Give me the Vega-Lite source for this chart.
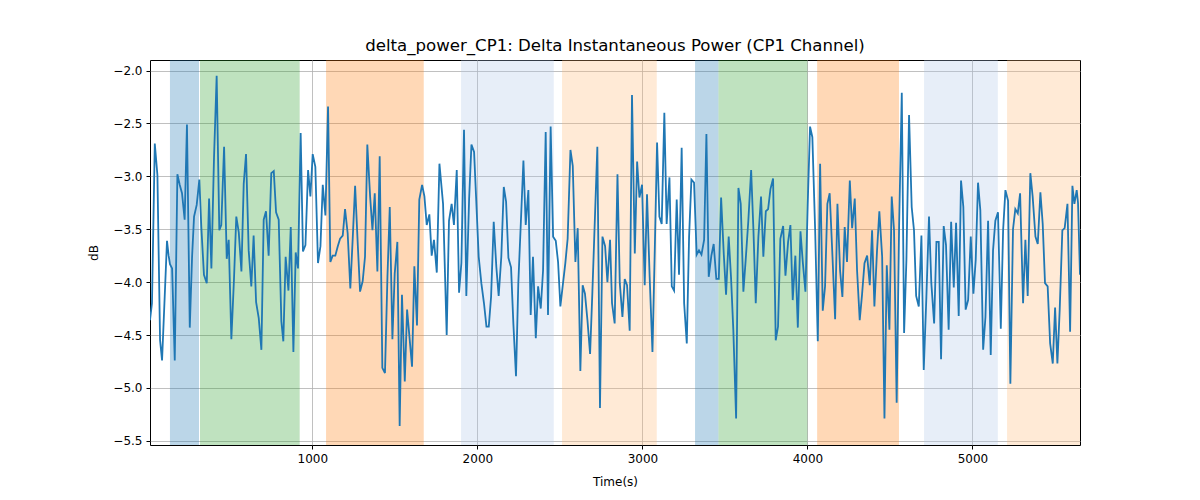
{
  "$schema": "https://vega.github.io/schema/vega-lite/v6.json",
  "width": 930,
  "height": 385,
  "autosize": "none",
  "padding": {"left": 150, "top": 60, "right": 120, "bottom": 55},
  "background": "white",
  "title": {"text": "delta_power_CP1: Delta Instantaneous Power (CP1 Channel)", "font": "DejaVu Sans", "fontSize": 16.6, "fontWeight": "normal", "color": "black", "offset": 5, "anchor": "middle"},
  "config": {
    "view": {"stroke": "black", "strokeWidth": 1},
    "axis": {"labelFont": "DejaVu Sans", "labelFontSize": 12, "labelColor": "black", "titleFont": "DejaVu Sans", "titleFontSize": 12, "titleFontWeight": "normal", "titleColor": "black", "tickColor": "black", "tickSize": 4, "labelPadding": 4, "domain": false, "gridColor": "#b0b0b0", "gridWidth": 0.8}
  },
  "datasets": {
    "spans": [
      {"start": 137, "end": 313, "kind": "a"},
      {"start": 319, "end": 923, "kind": "b"},
      {"start": 1083, "end": 1675, "kind": "c"},
      {"start": 1901, "end": 2463, "kind": "d"},
      {"start": 2513, "end": 3087, "kind": "e"},
      {"start": 3319, "end": 3461, "kind": "a"},
      {"start": 3461, "end": 4000, "kind": "b"},
      {"start": 4059, "end": 4555, "kind": "c"},
      {"start": 4707, "end": 5154, "kind": "d"},
      {"start": 5210, "end": 5652, "kind": "e"}
    ],
    "series": [
      {"t":16,"v":-4.36},{"t":28,"v":-4.20},{"t":45,"v":-2.69},{"t":61,"v":-2.99},{"t":77,"v":-4.55},{"t":89,"v":-4.74},{"t":105,"v":-4.14},{"t":119,"v":-3.61},{"t":129,"v":-3.75},{"t":137,"v":-3.83},{"t":150,"v":-3.87},{"t":166,"v":-4.74},{"t":182,"v":-2.98},{"t":196,"v":-3.08},{"t":210,"v":-3.16},{"t":226,"v":-3.41},{"t":240,"v":-2.51},{"t":257,"v":-4.43},{"t":271,"v":-3.76},{"t":283,"v":-3.38},{"t":299,"v":-3.27},{"t":315,"v":-3.03},{"t":327,"v":-3.48},{"t":343,"v":-3.93},{"t":360,"v":-4.01},{"t":374,"v":-3.21},{"t":388,"v":-3.87},{"t":404,"v":-2.82},{"t":420,"v":-2.05},{"t":436,"v":-3.51},{"t":448,"v":-3.46},{"t":465,"v":-2.72},{"t":481,"v":-3.78},{"t":493,"v":-3.60},{"t":509,"v":-4.54},{"t":525,"v":-3.97},{"t":539,"v":-3.38},{"t":554,"v":-3.53},{"t":570,"v":-3.90},{"t":584,"v":-3.07},{"t":598,"v":-2.79},{"t":614,"v":-3.70},{"t":630,"v":-4.04},{"t":644,"v":-3.56},{"t":659,"v":-4.19},{"t":675,"v":-4.34},{"t":691,"v":-4.64},{"t":705,"v":-3.41},{"t":719,"v":-3.33},{"t":735,"v":-3.75},{"t":751,"v":-2.97},{"t":766,"v":-2.95},{"t":780,"v":-3.34},{"t":796,"v":-3.41},{"t":812,"v":-4.37},{"t":824,"v":-4.56},{"t":838,"v":-3.76},{"t":855,"v":-4.08},{"t":869,"v":-3.48},{"t":885,"v":-4.66},{"t":899,"v":-3.72},{"t":913,"v":-3.87},{"t":929,"v":-2.59},{"t":943,"v":-3.71},{"t":958,"v":-3.65},{"t":974,"v":-2.94},
      {"t":988,"v":-3.19},{"t":1002,"v":-2.79},{"t":1018,"v":-2.91},{"t":1034,"v":-3.82},{"t":1049,"v":-3.66},{"t":1063,"v":-3.08},{"t":1079,"v":-3.37},{"t":1095,"v":-2.34},{"t":1109,"v":-3.81},{"t":1123,"v":-3.75},{"t":1139,"v":-3.75},{"t":1154,"v":-3.66},{"t":1168,"v":-3.59},{"t":1184,"v":-3.56},{"t":1198,"v":-3.31},{"t":1214,"v":-3.54},{"t":1230,"v":-4.06},{"t":1245,"v":-3.57},{"t":1259,"v":-3.09},{"t":1275,"v":-3.64},{"t":1289,"v":-4.09},{"t":1305,"v":-3.99},{"t":1319,"v":-3.76},{"t":1333,"v":-2.70},{"t":1350,"v":-3.19},{"t":1364,"v":-3.51},{"t":1378,"v":-3.16},{"t":1394,"v":-3.90},{"t":1408,"v":-2.81},{"t":1424,"v":-4.81},{"t":1440,"v":-4.86},{"t":1455,"v":-3.95},{"t":1469,"v":-3.29},{"t":1485,"v":-4.54},{"t":1499,"v":-3.92},{"t":1515,"v":-3.62},{"t":1529,"v":-5.36},{"t":1543,"v":-4.12},{"t":1560,"v":-4.94},{"t":1574,"v":-4.26},{"t":1588,"v":-4.51},{"t":1604,"v":-4.80},{"t":1618,"v":-3.85},{"t":1634,"v":-4.41},{"t":1648,"v":-3.22},{"t":1665,"v":-3.08},{"t":1679,"v":-3.19},{"t":1693,"v":-3.46},{"t":1709,"v":-3.36},{"t":1723,"v":-3.75},{"t":1737,"v":-3.60},{"t":1754,"v":-3.91},{"t":1770,"v":-2.88},{"t":1792,"v":-3.26},{"t":1814,"v":-4.50},{"t":1828,"v":-3.42},{"t":1844,"v":-3.26},{"t":1858,"v":-3.46},{"t":1875,"v":-2.94},{"t":1889,"v":-4.10},
      {"t":1903,"v":-3.82},{"t":1919,"v":-2.56},{"t":1933,"v":-4.13},{"t":1950,"v":-3.21},{"t":1964,"v":-2.70},{"t":1980,"v":-2.77},{"t":1992,"v":-3.19},{"t":2008,"v":-3.76},{"t":2024,"v":-4.01},{"t":2040,"v":-4.20},{"t":2055,"v":-4.42},{"t":2069,"v":-4.42},{"t":2083,"v":-4.14},{"t":2099,"v":-3.43},{"t":2115,"v":-3.86},{"t":2129,"v":-4.13},{"t":2145,"v":-3.76},{"t":2160,"v":-3.10},{"t":2174,"v":-3.24},{"t":2188,"v":-3.77},{"t":2204,"v":-3.86},{"t":2218,"v":-4.39},{"t":2234,"v":-4.89},{"t":2248,"v":-4.01},{"t":2263,"v":-3.45},{"t":2279,"v":-2.85},{"t":2293,"v":-3.46},{"t":2309,"v":-3.13},{"t":2323,"v":-4.31},{"t":2337,"v":-3.76},{"t":2354,"v":-4.53},{"t":2368,"v":-4.04},{"t":2384,"v":-4.25},{"t":2398,"v":-3.89},{"t":2414,"v":-2.58},{"t":2428,"v":-4.31},{"t":2444,"v":-2.53},{"t":2459,"v":-3.57},{"t":2475,"v":-3.61},{"t":2489,"v":-3.81},{"t":2503,"v":-4.23},{"t":2519,"v":-4.01},{"t":2533,"v":-3.82},{"t":2547,"v":-3.59},{"t":2564,"v":-2.75},{"t":2578,"v":-2.90},{"t":2594,"v":-3.81},{"t":2608,"v":-3.49},{"t":2624,"v":-4.84},{"t":2638,"v":-4.03},{"t":2652,"v":-4.11},{"t":2667,"v":-4.36},{"t":2683,"v":-4.68},{"t":2697,"v":-4.09},{"t":2711,"v":-3.45},{"t":2727,"v":-2.72},{"t":2743,"v":-5.19},{"t":2758,"v":-3.57},{"t":2774,"v":-3.66},{"t":2788,"v":-4.00},{"t":2804,"v":-3.60},{"t":2816,"v":-4.20},
      {"t":2832,"v":-4.39},{"t":2849,"v":-2.98},{"t":2863,"v":-4.01},{"t":2879,"v":-4.33},{"t":2893,"v":-3.97},{"t":2907,"v":-4.03},{"t":2923,"v":-4.46},{"t":2937,"v":-2.23},{"t":2954,"v":-3.73},{"t":2968,"v":-2.86},{"t":2982,"v":-3.20},{"t":2998,"v":-3.08},{"t":3014,"v":-4.03},{"t":3028,"v":-3.17},{"t":3044,"v":-3.95},{"t":3061,"v":-4.66},{"t":3075,"v":-3.70},{"t":3089,"v":-2.68},{"t":3103,"v":-3.38},{"t":3117,"v":-3.45},{"t":3133,"v":-2.40},{"t":3147,"v":-3.45},{"t":3164,"v":-3.01},{"t":3178,"v":-4.04},{"t":3192,"v":-4.08},{"t":3208,"v":-3.22},{"t":3222,"v":-3.93},{"t":3238,"v":-2.73},{"t":3253,"v":-4.20},{"t":3269,"v":-4.58},{"t":3283,"v":-3.57},{"t":3297,"v":-3.03},{"t":3313,"v":-3.06},{"t":3329,"v":-3.74},{"t":3343,"v":-3.70},{"t":3358,"v":-3.74},{"t":3374,"v":-3.60},{"t":3388,"v":-2.60},{"t":3402,"v":-3.95},{"t":3418,"v":-3.75},{"t":3432,"v":-3.64},{"t":3448,"v":-3.97},{"t":3463,"v":-3.97},{"t":3477,"v":-3.20},{"t":3493,"v":-3.73},{"t":3507,"v":-4.12},{"t":3523,"v":-3.57},{"t":3537,"v":-3.95},{"t":3551,"v":-4.45},{"t":3568,"v":-5.29},{"t":3582,"v":-3.11},{"t":3596,"v":-3.26},{"t":3612,"v":-4.09},{"t":3626,"v":-3.79},{"t":3642,"v":-3.42},{"t":3659,"v":-2.94},{"t":3673,"v":-3.51},{"t":3687,"v":-4.20},{"t":3703,"v":-3.57},{"t":3719,"v":-3.19},{"t":3733,"v":-3.76},
      {"t":3748,"v":-3.33},{"t":3762,"v":-3.31},{"t":3776,"v":-3.12},{"t":3792,"v":-3.02},{"t":3808,"v":-4.55},{"t":3822,"v":-4.42},{"t":3836,"v":-3.59},{"t":3853,"v":-3.47},{"t":3867,"v":-3.94},{"t":3883,"v":-3.62},{"t":3897,"v":-3.46},{"t":3911,"v":-4.17},{"t":3927,"v":-3.75},{"t":3942,"v":-4.43},{"t":3958,"v":-3.52},{"t":3972,"v":-3.81},{"t":3988,"v":-4.09},{"t":4002,"v":-3.26},{"t":4016,"v":-2.53},{"t":4030,"v":-2.63},{"t":4047,"v":-3.51},{"t":4063,"v":-4.56},{"t":4077,"v":-2.88},{"t":4093,"v":-4.27},{"t":4107,"v":-4.04},{"t":4121,"v":-3.26},{"t":4135,"v":-3.16},{"t":4152,"v":-3.76},{"t":4168,"v":-4.35},{"t":4182,"v":-3.26},{"t":4198,"v":-3.89},{"t":4212,"v":-4.14},{"t":4226,"v":-3.48},{"t":4240,"v":-3.81},{"t":4257,"v":-3.04},{"t":4271,"v":-3.49},{"t":4287,"v":-3.21},{"t":4301,"v":-3.89},{"t":4317,"v":-4.36},{"t":4331,"v":-4.12},{"t":4346,"v":-3.82},{"t":4362,"v":-3.75},{"t":4378,"v":-4.03},{"t":4392,"v":-3.51},{"t":4406,"v":-4.23},{"t":4422,"v":-3.70},{"t":4436,"v":-3.33},{"t":4453,"v":-3.76},{"t":4467,"v":-5.29},{"t":4481,"v":-3.84},{"t":4497,"v":-4.45},{"t":4511,"v":-3.19},{"t":4525,"v":-3.51},{"t":4541,"v":-5.14},{"t":4556,"v":-3.45},{"t":4572,"v":-2.21},{"t":4586,"v":-4.48},{"t":4600,"v":-3.79},{"t":4616,"v":-2.42},{"t":4632,"v":-3.29},{"t":4646,"v":-3.51},{"t":4659,"v":-4.13},
      {"t":4675,"v":-4.23},{"t":4691,"v":-3.56},{"t":4705,"v":-4.83},{"t":4721,"v":-4.14},{"t":4737,"v":-3.38},{"t":4751,"v":-4.01},{"t":4768,"v":-4.39},{"t":4782,"v":-3.62},{"t":4796,"v":-3.62},{"t":4810,"v":-4.73},{"t":4826,"v":-3.47},{"t":4840,"v":-3.65},{"t":4856,"v":-4.45},{"t":4871,"v":-3.43},{"t":4887,"v":-4.05},{"t":4901,"v":-3.44},{"t":4917,"v":-4.32},{"t":4931,"v":-3.04},{"t":4945,"v":-3.29},{"t":4959,"v":-4.26},{"t":4974,"v":-4.17},{"t":4990,"v":-3.57},{"t":5006,"v":-4.11},{"t":5020,"v":-3.79},{"t":5034,"v":-3.06},{"t":5048,"v":-3.32},{"t":5065,"v":-4.64},{"t":5079,"v":-4.33},{"t":5095,"v":-3.42},{"t":5111,"v":-4.69},{"t":5125,"v":-3.70},{"t":5139,"v":-3.42},{"t":5155,"v":-3.34},{"t":5172,"v":-4.44},{"t":5186,"v":-3.51},{"t":5200,"v":-3.13},{"t":5216,"v":-3.23},{"t":5230,"v":-4.96},{"t":5246,"v":-3.50},{"t":5260,"v":-3.31},{"t":5275,"v":-3.35},{"t":5289,"v":-3.16},{"t":5307,"v":-4.20},{"t":5321,"v":-3.60},{"t":5335,"v":-4.13},{"t":5351,"v":-2.97},{"t":5365,"v":-3.19},{"t":5382,"v":-3.57},{"t":5396,"v":-3.64},{"t":5412,"v":-3.15},{"t":5426,"v":-3.45},{"t":5440,"v":-4.01},{"t":5456,"v":-4.04},{"t":5471,"v":-4.58},{"t":5487,"v":-4.77},{"t":5501,"v":-4.24},{"t":5515,"v":-4.77},{"t":5529,"v":-4.26},{"t":5545,"v":-3.51},{"t":5559,"v":-3.49},{"t":5576,"v":-3.26},{"t":5592,"v":-4.47},{"t":5606,"v":-3.09},{"t":5618,"v":-3.26},{"t":5632,"v":-3.13},{"t":5640,"v":-3.25},{"t":5652,"v":-3.93}
    ]
  },
  "layer": [
    {
      "data": {"name": "spans"},
      "mark": {"type": "rect", "opacity": 0.3, "clip": true},
      "encoding": {
        "x": {"field": "start", "type": "quantitative", "scale": {"domain": [16, 5652], "nice": false, "zero": false}, "axis": {"title": "Time(s)", "values": [1000, 2000, 3000, 4000, 5000], "format": "d", "grid": true, "titlePadding": 12}},
        "x2": {"field": "end"},
        "color": {"field": "kind", "type": "nominal", "scale": {"domain": ["a", "b", "c", "d", "e"], "range": ["#1f77b4", "#2ca02c", "#ff7f0e", "#aec7e8", "#ffbb78"]}, "legend": null}
      }
    },
    {
      "data": {"name": "series"},
      "mark": {"type": "line", "color": "#1f77b4", "strokeWidth": 1.8, "clip": true},
      "encoding": {
        "x": {"field": "t", "type": "quantitative"},
        "y": {"field": "v", "type": "quantitative", "scale": {"domain": [-5.54, -1.9], "nice": false, "zero": false}, "axis": {"title": "dB", "values": [-5.5, -5.0, -4.5, -4.0, -3.5, -3.0, -2.5, -2.0], "format": ".1f", "grid": true, "titlePadding": 12}}
      }
    }
  ]
}
